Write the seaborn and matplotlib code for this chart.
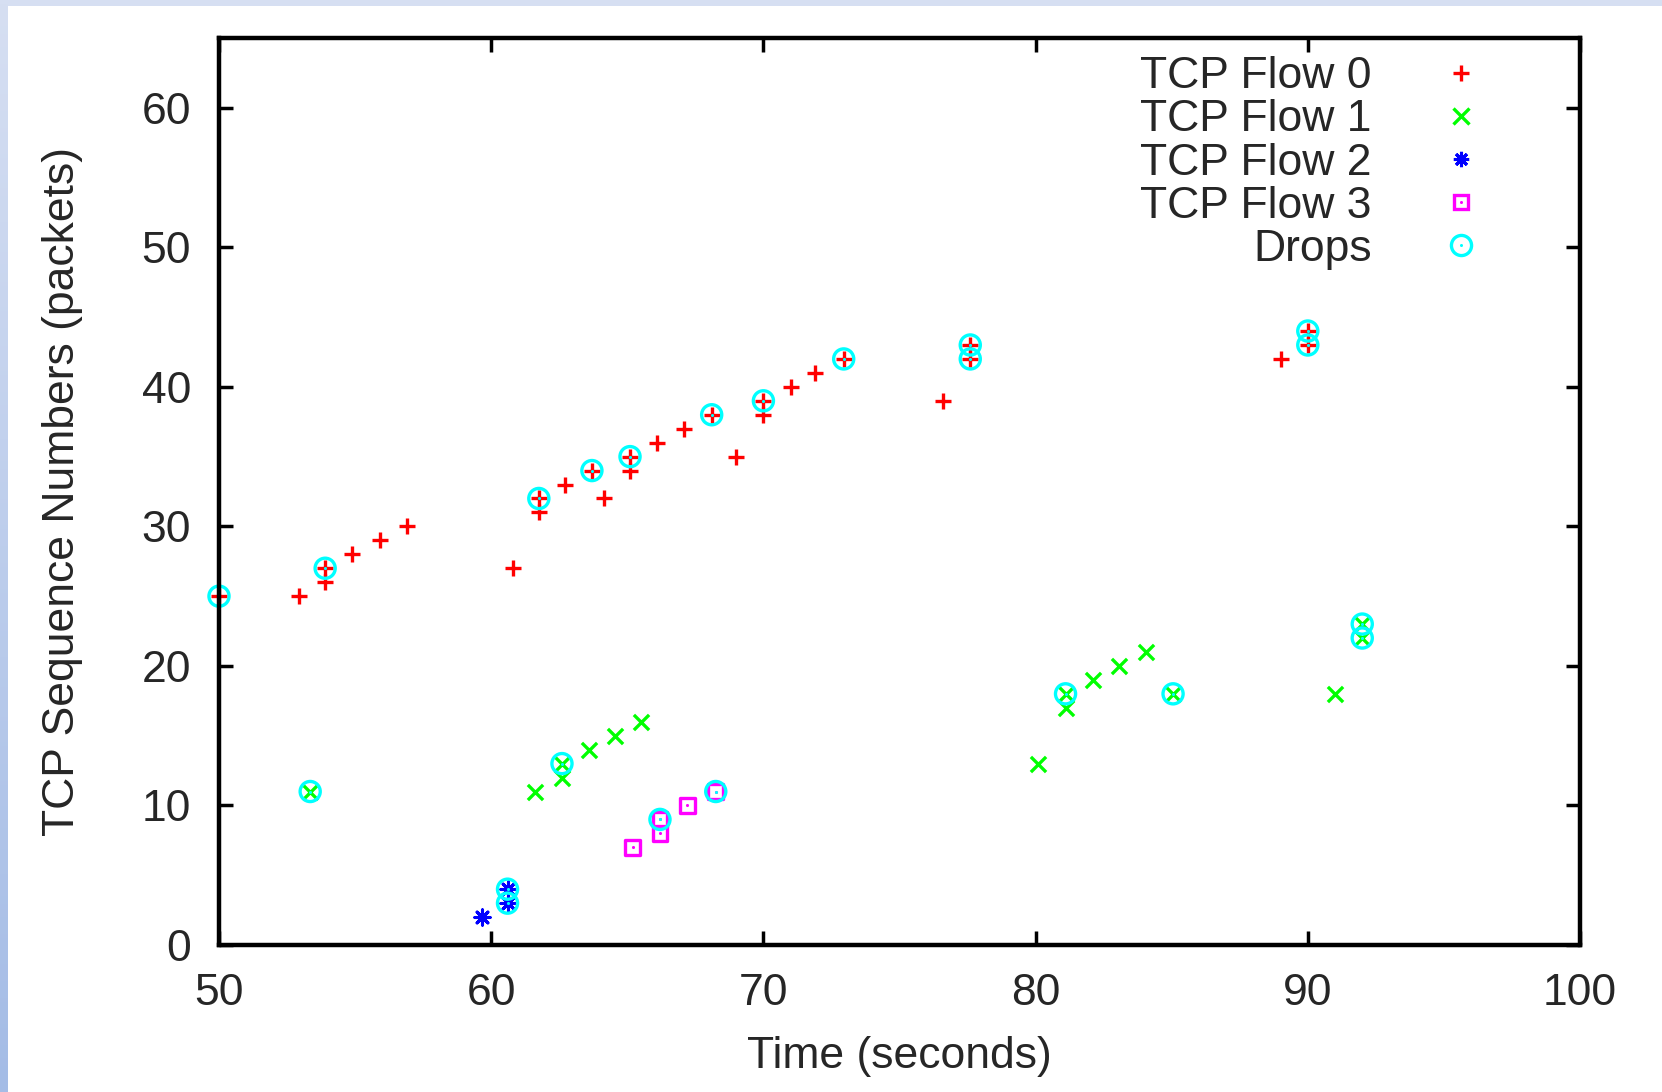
import numpy as np
import matplotlib
matplotlib.use("Agg")
import matplotlib.pyplot as plt
import seaborn as sns
from matplotlib.lines import Line2D
from matplotlib.legend_handler import HandlerTuple
from matplotlib.colors import LinearSegmentedColormap

# datos (tiempo en s, número de secuencia en paquetes)
flow0_t = [50.0, 52.95, 53.9, 53.9, 54.9, 55.9, 56.9, 60.8, 61.75, 61.75, 62.7, 63.7, 64.15,
           65.1, 65.1, 66.1, 67.1, 68.1, 69.0, 70.0, 70.0, 71.0, 71.9, 72.95, 76.6, 77.6, 77.6,
           89.0, 90.0, 90.0]
flow0_seq = [25, 25, 26, 27, 28, 29, 30, 27, 31, 32, 33, 34, 32,
             34, 35, 36, 37, 38, 35, 38, 39, 40, 41, 42, 39, 42, 43,
             42, 43, 44]

flow1_t = [53.35, 61.6, 62.6, 62.6, 63.6, 64.55, 65.5, 80.1, 81.1, 81.1, 82.1, 83.05, 84.05,
           85.05, 91.0, 92.0, 92.0]
flow1_seq = [11, 11, 12, 13, 14, 15, 16, 13, 17, 18, 19, 20, 21, 18, 18, 22, 23]

flow2_t = [59.65, 60.6, 60.6]
flow2_seq = [2, 3, 4]

flow3_t = [65.2, 66.2, 66.2, 67.2, 68.25]
flow3_seq = [7, 8, 9, 10, 11]

drop_t = [50.0, 53.9, 61.75, 63.7, 65.1, 68.1, 70.0, 72.95, 77.6, 77.6, 90.0, 90.0,
          53.35, 62.6, 81.1, 85.05, 92.0, 92.0, 60.6, 60.6, 66.2, 68.25]
drop_seq = [25, 27, 32, 34, 35, 38, 39, 42, 42, 43, 43, 44,
            11, 13, 18, 18, 22, 23, 3, 4, 9, 11]

x_ticks = [50, 60, 70, 80, 90, 100]
y_ticks = [0, 10, 20, 30, 40, 50, 60]

sns.set_theme(style="white")
plt.rcParams['font.family'] = ['Liberation Sans', 'DejaVu Sans']

fig = plt.figure(figsize=(16.62, 10.92), dpi=100)
fig.patch.set_facecolor("white")

# borde azul claro (arriba y degradado a la izquierda)
top = fig.add_axes([0, 1 - 6 / 1092, 1, 6 / 1092])
top.set_axis_off()
top.add_patch(plt.Rectangle((0, 0), 1, 1, color="#d6dff2", transform=top.transAxes))
left = fig.add_axes([0, 0, 8 / 1662, 1])
left.set_axis_off()
grad = np.linspace(0, 1, 256).reshape(-1, 1)
cmap = LinearSegmentedColormap.from_list("borde", ["#d6dff2", "#a4bce6"])
left.imshow(grad, aspect="auto", cmap=cmap, extent=(0, 1, 0, 1), origin="upper")

ax = fig.add_axes([219 / 1662, 1 - 945 / 1092, 1361 / 1662, 907 / 1092])
ax.set_facecolor("white")

lw = 2.4
sns.scatterplot(x=flow0_t, y=flow0_seq, ax=ax, marker="+", s=145, color="#ff0000",
                linewidth=lw, clip_on=False, zorder=3)
sns.scatterplot(x=flow1_t, y=flow1_seq, ax=ax, marker="x", s=120, color="#00ff00",
                linewidth=lw, clip_on=False, zorder=3)
sns.scatterplot(x=flow2_t, y=flow2_seq, ax=ax, marker=(8, 2, 0), s=120, color="#0000ff",
                linewidth=2.2, clip_on=False, zorder=3)
sns.scatterplot(x=flow3_t, y=flow3_seq, ax=ax, marker="s", s=115, facecolor="none",
                edgecolor="#ff00ff", linewidth=lw, clip_on=False, zorder=3)
sns.scatterplot(x=flow3_t, y=flow3_seq, ax=ax, marker="o", s=5, color="#ff00ff",
                linewidth=0, clip_on=False, zorder=3)
sns.scatterplot(x=drop_t, y=drop_seq, ax=ax, marker="o", s=210, facecolor="none",
                edgecolor="#00ffff", linewidth=lw, clip_on=False, zorder=4)
sns.scatterplot(x=drop_t, y=drop_seq, ax=ax, marker="o", s=5, color="#00ffff",
                linewidth=0, clip_on=False, zorder=4)

ax.set_xlim(50, 100)
ax.set_ylim(0, 65)
ax.set_xticks(x_ticks)
ax.set_yticks(y_ticks)
ax.tick_params(direction="in", length=10, width=2.5, labelsize=32, pad=20,
               top=True, right=True, bottom=True, left=True, color="black")
for sp in ax.spines.values():
    sp.set_linewidth(3.2)
    sp.set_color("black")
    sp.set_zorder(5)

ax.set_xlabel("Time (seconds)", fontsize=32)
ax.set_ylabel("TCP Sequence Numbers (packets)", fontsize=32)
ax.xaxis.set_label_coords(0.5, -0.1005)
ax.yaxis.set_label_coords(-0.1, 0.5)

# leyenda estilo gnuplot: texto a la derecha y marcador después
h0 = Line2D([], [], ls="none", marker="+", ms=12, mew=lw, color="#ff0000")
h1 = Line2D([], [], ls="none", marker="x", ms=11, mew=lw, color="#00ff00")
h2 = Line2D([], [], ls="none", marker=(8, 2, 0), ms=11, mew=2.2, color="#0000ff")
h3 = (Line2D([], [], ls="none", marker="s", ms=10.7, mew=lw, mfc="none", mec="#ff00ff"),
      Line2D([], [], ls="none", marker="o", ms=2.2, mew=0, color="#ff00ff"))
h4 = (Line2D([], [], ls="none", marker="o", ms=14.5, mew=lw, mfc="none", mec="#00ffff"),
      Line2D([], [], ls="none", marker="o", ms=2.2, mew=0, color="#00ffff"))
ax.legend([h0, h1, h2, h3, h4],
          ["TCP Flow 0", "TCP Flow 1", "TCP Flow 2", "TCP Flow 3", "Drops"],
          handler_map={tuple: HandlerTuple(ndivide=1)},
          loc="upper right", bbox_to_anchor=(0.9287, 0.98), borderaxespad=0, borderpad=0,
          frameon=False, markerfirst=False, fontsize=32, handlelength=1.0,
          handletextpad=1.5, labelspacing=0.05)

fig.savefig("out.png", dpi=100, facecolor=fig.get_facecolor())
